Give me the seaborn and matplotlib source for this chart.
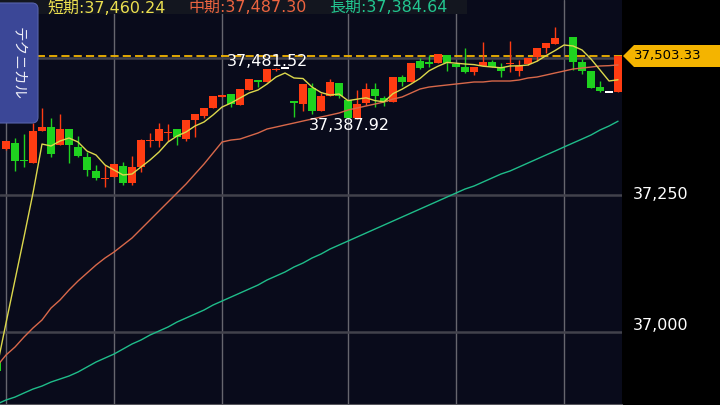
import numpy as np
import pandas as pd
import matplotlib
matplotlib.use("Agg")
import matplotlib.pyplot as plt
import seaborn as sns
from matplotlib.patches import Polygon, FancyBboxPatch, Rectangle

# ---------------------------------------------------------------------------
# データ (足番号 -1 は左端で切れている前の足)
# ---------------------------------------------------------------------------
nan = np.nan
bar_no = list(range(-1, 69))

opens = [36945.2, 37333.9, 37344.9, 37313.8, 37308.4, 37366.7, 37374.0, 37341.2, 37370.4, 37337.6,
         37319.3, 37293.8, 37279.2, 37282.8, 37302.9, 37271.9, 37301.1, 37348.5, 37348.5, 37363.1,
         37370.4, 37352.1, 37386.8, 37394.1, 37408.7, 37428.8, 37434.3, 37414.2, 37441.6, 37459.8,
         37456.2, 37478.1, 37481.52, 37421.5, 37416.0, 37445.2, 37403.2, 37430.6, 37454.3, 37423.3,
         37390.5, 37417.8, 37443.4, 37427.0, 37419.7, 37465.3, 37456.2, 37494.5, 37492.7, 37490.8,
         37505.4, 37489.0, 37483.5, 37474.4, 37485.4, 37492.7, 37483.5, 37489.0, 37476.2, 37489.0,
         37501.8, 37518.2, 37525.5, nan, 37538.3, 37492.7, 37476.2, 37447.0, 37437.9, 37437.9]
highs = [36947.0, 37348.5, 37354.0, 37361.3, 37381.3, 37408.7, 37390.5, 37397.8, 37370.4, 37357.6,
         37328.4, 37304.7, 37304.7, 37306.5, 37310.2, 37321.1, 37352.1, 37363.1, 37381.3, 37379.5,
         37370.4, 37386.8, 37397.8, 37408.7, 37430.6, 37432.4, 37434.3, 37443.4, 37461.6, 37459.8,
         37480.0, 37481.0, 37481.52, 37421.5, 37452.5, 37454.3, 37436.1, 37461.6, 37454.3, 37423.3,
         37441.6, 37454.3, 37454.3, 37430.6, 37465.3, 37468.9, 37490.8, 37500.0, 37505.4, 37507.3,
         37505.4, 37489.0, 37518.2, 37483.5, 37529.2, 37496.3, 37490.8, 37531.0, 37496.3, 37500.0,
         37518.2, 37527.3, 37556.5, nan, 37538.3, 37498.1, 37476.2, 37458.0, 37437.9, 37503.33]
lows = [36927.0, 37332.1, 37293.8, 37301.1, 37308.4, 37366.7, 37319.3, 37341.2, 37308.4, 37319.3,
        37284.7, 37277.3, 37264.6, 37282.8, 37268.2, 37268.2, 37291.9, 37337.6, 37337.6, 37348.5,
        37341.2, 37348.5, 37355.8, 37390.5, 37408.7, 37428.8, 37410.5, 37414.2, 37441.6, 37447.0,
        37456.2, 37476.2, 37481.52, 37392.3, 37403.2, 37397.8, 37403.2, 37430.6, 37427.0, 37390.5,
        37387.92, 37414.2, 37410.5, 37412.4, 37419.7, 37448.9, 37456.2, 37479.9, 37483.5, 37490.8,
        37476.2, 37483.5, 37472.6, 37468.9, 37485.4, 37483.5, 37465.3, 37474.4, 37467.1, 37487.2,
        37494.5, 37509.1, 37525.5, nan, 37478.1, 37470.8, 37445.2, 37437.9, 37437.9, 37437.9]
closes = [36928.8, 37348.5, 37312.0, 37312.0, 37366.7, 37374.0, 37324.8, 37370.4, 37341.2, 37321.1,
          37295.6, 37281.0, 37281.0, 37306.5, 37271.9, 37301.1, 37350.3, 37350.3, 37370.4, 37364.9,
          37355.8, 37386.8, 37397.8, 37408.7, 37430.6, 37432.4, 37416.0, 37443.4, 37461.6, 37456.2,
          37480.0, 37479.9, 37481.52, 37417.8, 37452.5, 37403.2, 37430.6, 37456.2, 37430.6, 37390.5,
          37416.0, 37443.4, 37430.6, 37419.7, 37465.3, 37456.2, 37490.8, 37481.7, 37489.0, 37507.3,
          37490.8, 37483.5, 37474.4, 37483.5, 37492.7, 37483.5, 37476.2, 37490.8, 37485.4, 37500.0,
          37518.2, 37527.3, 37536.5, nan, 37492.7, 37476.2, 37445.2, 37439.7, 37437.9, 37503.33]

# 移動平均 (短期・中期・長期)
short_ma = [36936.1, 37016.4, 37094.9, 37173.3, 37253.6, 37343.0, 37339.4, 37348.5, 37354.0, 37346.7,
            37330.2, 37323.0, 37304.7, 37295.6, 37286.5, 37288.3, 37301.1, 37313.8, 37328.4, 37346.7,
            37357.6, 37364.9, 37375.9, 37383.2, 37396.0, 37410.5, 37417.8, 37427.0, 37436.1, 37441.6,
            37452.5, 37465.3, 37472.6, 37463.5, 37462.5, 37447.0, 37437.0, 37432.4, 37434.3, 37422.2,
            37424.8, 37427.3, 37422.2, 37420.0, 37435.0, 37443.0, 37452.5, 37462.7, 37476.6, 37485.0,
            37491.9, 37490.5, 37489.0, 37487.9, 37485.0, 37483.5, 37482.1, 37485.4, 37485.7, 37487.2,
            37494.1, 37504.3, 37513.5, 37523.7, 37521.9, 37514.6, 37498.1, 37478.1, 37458.0, 37460.24]
mid_ma = [36937.9, 36958.0, 36972.6, 36990.8, 37007.3, 37021.9, 37043.7, 37058.4, 37076.6, 37093.0,
          37107.6, 37122.2, 37135.0, 37145.9, 37158.7, 37171.5, 37187.9, 37204.3, 37220.8, 37237.2,
          37253.6, 37270.0, 37288.3, 37306.5, 37326.6, 37346.7, 37350.3, 37352.1, 37357.6, 37363.1,
          37370.4, 37374.0, 37377.7, 37381.3, 37385.0, 37388.6, 37392.3, 37395.9, 37399.6, 37405.1,
          37408.7, 37412.4, 37416.0, 37419.7, 37425.1, 37428.8, 37436.1, 37443.4, 37447.0, 37448.9,
          37450.7, 37452.5, 37454.3, 37456.2, 37456.2, 37458.0, 37458.0, 37458.0, 37459.8, 37463.5,
          37465.3, 37468.9, 37472.6, 37476.2, 37479.9, 37481.7, 37483.5, 37485.4, 37486.0, 37487.30]
long_ma = [36868.6, 36875.9, 36881.3, 36888.7, 36895.9, 36901.4, 36908.7, 36914.2, 36919.7, 36927.0,
           36936.1, 36945.2, 36952.5, 36959.8, 36968.9, 36978.1, 36985.4, 36994.5, 37001.8, 37009.1,
           37018.2, 37025.5, 37032.8, 37040.1, 37049.2, 37056.5, 37063.8, 37071.1, 37078.4, 37085.7,
           37094.9, 37102.2, 37109.5, 37118.6, 37125.9, 37135.0, 37142.3, 37151.4, 37158.7, 37166.0,
           37173.3, 37180.6, 37187.9, 37195.2, 37202.5, 37209.8, 37217.1, 37224.4, 37231.7, 37239.0,
           37246.3, 37253.6, 37260.9, 37266.4, 37273.7, 37281.0, 37288.3, 37293.8, 37301.1, 37308.4,
           37315.7, 37323.0, 37330.2, 37337.6, 37344.9, 37352.1, 37359.5, 37368.6, 37375.9, 37384.64]

y_grid = [37000, 37250, 37500]
y_labels = [("37,250", 37250), ("37,000", 37011)]
time_grid = [0, 12, 24, 38, 50, 62]

last_price = 37503.33
high_label, high_pos = "37,481.52", (29.0, 37493.0)
low_label, low_pos = "37,387.92", (38.1, 37375.9)
legend_items = [("短期:37,460.24", "#ece050", 47), ("中期:37,487.30", "#ec6440", 188),
                ("長期:37,384.64", "#22c690", 329)]

# ---------------------------------------------------------------------------
# 描画
# ---------------------------------------------------------------------------
BG = "#090b1b"
UP = "#ff3c12"
DOWN = "#1fd21f"

sns.set_style("dark", {"axes.facecolor": BG, "figure.facecolor": "black"})
plt.rcParams['font.family'] = ['DejaVu Sans', 'Noto Sans CJK JP']

fig = plt.figure(figsize=(7.2, 4.05), dpi=100, facecolor="black")
ax = fig.add_axes([0, 0, 622 / 720, 1])
ax.set_facecolor(BG)

# グリッド
for g in time_grid:
    ax.axvline(g, color="#66666e", lw=1.0, zorder=1)
for t in y_grid:
    ax.axhline(t, color="#42424c", lw=1.8, zorder=1)
ax.axhline(last_price, color="#f2b400", lw=1.3, dashes=(4.5, 2.3), zorder=1.5)

# ローソク足
min_body = 2.4
for n, o, h, l, c in zip(bar_no, opens, highs, lows, closes):
    if np.isnan(o):
        continue
    if c > o:
        col = UP
    elif c < o:
        col = DOWN
    else:
        col = "white"
    ax.vlines(n, l, h, color=col, lw=1.0, zorder=3)
    lo, hi = min(o, c), max(o, c)
    hgt = max(hi - lo, min_body)
    ax.bar(n, hgt, bottom=lo - (hgt - (hi - lo)) / 2, width=0.89, color=col, lw=0, zorder=3)

# 移動平均線
df_ma = pd.DataFrame({"n": bar_no, "short": short_ma, "mid": mid_ma, "long": long_ma})
sns.lineplot(data=df_ma, x="n", y="long", color="#1fbd8a", lw=1.0, ax=ax, zorder=4)
sns.lineplot(data=df_ma, x="n", y="mid", color="#d8684a", lw=1.0, ax=ax, zorder=4)
sns.lineplot(data=df_ma, x="n", y="short", color="#dcd84c", lw=1.0, ax=ax, zorder=4)

ax.set_xlim(-2 / 3, 68.44)
ax.set_ylim(36866.8, 37605.8)
ax.set_xlabel("")
ax.set_ylabel("")
ax.set_xticks([])
ax.set_yticks([])
ax.grid(False)
for s in ["top", "left", "right"]:
    ax.spines[s].set_visible(False)
ax.spines["bottom"].set_color("#55555c")
ax.spines["bottom"].set_linewidth(1.5)

# 価格軸ラベル (右側の黒い帯)
ytrans = ax.get_yaxis_transform()
for txt, val in y_labels:
    ax.text(1 + 11 / 622, val, txt, transform=ytrans, color="white", fontsize=11.5,
            ha="left", va="center", clip_on=False)

# 高値・安値ラベル
ax.text(*high_pos, high_label, color="white", fontsize=11.5, ha="center", va="center", zorder=5)
ax.text(*low_pos, low_label, color="white", fontsize=11.5, ha="center", va="center", zorder=5)

# ヘッダー帯と凡例
fig.add_artist(Rectangle((0, (405 - 14) / 100), 4.67, 0.15, transform=fig.dpi_scale_trans,
                         fc="#13161f", ec="none", zorder=5))
for txt, col, xpx in legend_items:
    fig.text(xpx / 720, 1 - 8 / 405, txt, color=col, fontsize=11.5, ha="left", va="center",
             family=['DejaVu Sans', 'Noto Sans CJK JP'], zorder=6)

# テクニカル ボタン
fig.add_artist(FancyBboxPatch((-0.10, (405 - 123) / 100), 0.48, 1.20,
                              boxstyle="round,pad=0,rounding_size=0.06",
                              transform=fig.dpi_scale_trans, fc="#3b4797", ec="#5662aa",
                              lw=0.8, zorder=6))
fig.text(18 / 720, 1 - 64 / 405, "テクニカル", color="#eeeef6", fontsize=10.5, rotation=-90,
         ha="center", va="center", family=['Noto Sans CJK JP', 'DejaVu Sans'], zorder=7)

# 現在値タグ
pts = [(623, 56), (634, 45), (720, 45), (720, 67), (634, 67)]
fig.add_artist(Polygon([(x / 100, (405 - y) / 100) for x, y in pts], closed=True,
                       transform=fig.dpi_scale_trans, fc="#f4b400", ec="none", zorder=6))
fig.text(634 / 720, 1 - 56 / 405, f"{last_price:,.2f}", color="black", fontsize=9.5,
         ha="left", va="center", zorder=7)

fig.savefig("out.png", dpi=100, facecolor="black")
